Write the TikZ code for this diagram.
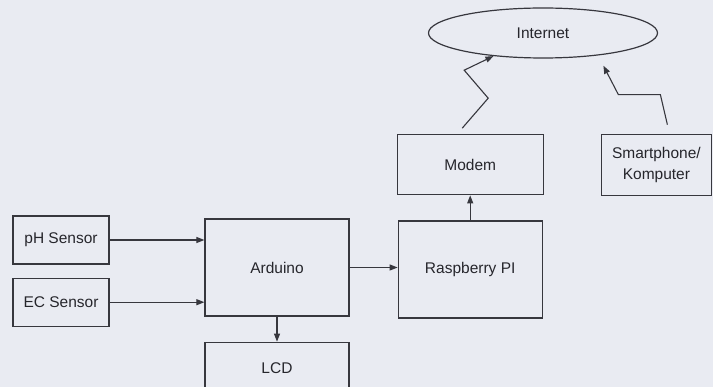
\documentclass[tikz,border=0pt]{standalone}
\usepackage{fontspec}
\setmainfont{Liberation Sans}
\usepackage{tikz}
\usetikzlibrary{positioning,arrows.meta,shapes.geometric}
\definecolor{paper}{RGB}{233,235,242}
\definecolor{ink}{RGB}{55,55,62}
\definecolor{lettering}{RGB}{38,38,44}

\begin{document}
\begin{tikzpicture}[
  x=1pt,y=-1pt,
  font=\fontsize{15.5}{21}\selectfont,
  box/.style={draw=ink,line width=1.2pt,align=center,minimum width=144pt,minimum height=97pt,inner sep=0pt,text=lettering},
  sensor/.style={box,minimum width=96pt,minimum height=48pt},
  cloud/.style={draw=ink,line width=1.2pt,ellipse,minimum width=229pt,minimum height=50pt,inner sep=0pt,text=lettering},
  link/.style={draw=ink,line width=1.1pt},
  >={Triangle[length=8pt,width=6pt]}
]
  \fill[paper] (0,0) rectangle (713,387);
  \clip (0,0) rectangle (713,387);
  \node[box] (arduino) at (277,267.5) {Arduino};
  \node[box,right=48pt of arduino,yshift=-2pt] (rpi) {Raspberry PI};
  \node[box,above=25pt of rpi,minimum width=146pt,minimum height=60pt] (modem) {Modem};
  \node[box,right=57pt of modem,minimum width=110pt,minimum height=61pt] (smart) {Smartphone/\\Komputer};
  \node[box,below=25pt of arduino,minimum height=52pt] (lcd) {LCD};
  \node[sensor] (ph) at (61,240) {pH Sensor};
  \node[sensor,below=13pt of ph] (ec) {EC Sensor};
  \node[cloud] (internet) at (543,33) {Internet};
  \draw[link,->] (ph) -- (ph -| arduino.west);
  \draw[link,->] (ec) -- (ec -| arduino.west);
  \draw[link,->] (arduino.east) -- (arduino.east -| rpi.west);
  \draw[link,->] (arduino) -- (lcd);
  \draw[link,->] (rpi) -- (rpi |- modem.south);
  % wireless links
  \draw[link,->] ([xshift=-8pt,yshift=6pt]modem.north) -- ++(26,-30) -- ++(-24,-28) -- (internet.-155);
  \draw[link,->] ([xshift=11pt,yshift=9pt]smart.north) -- ++(-7,-30) -- ++(-42,0) -- ++(-15,-29);
\end{tikzpicture}
\end{document}
